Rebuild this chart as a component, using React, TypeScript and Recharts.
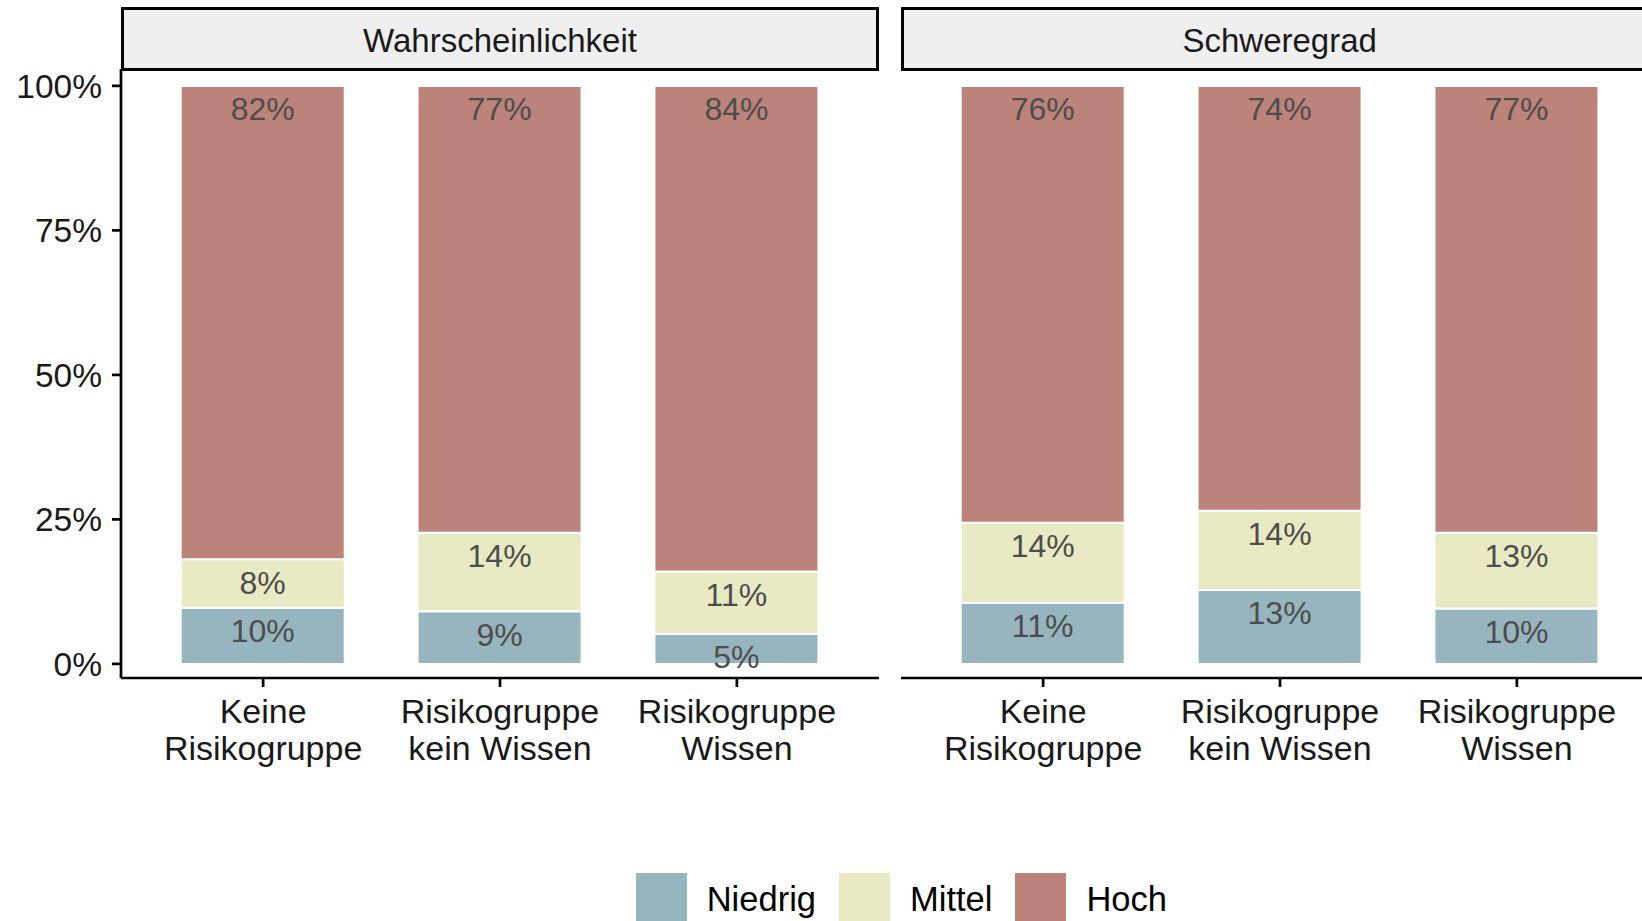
import React from 'react';
import { BarChart, Bar, XAxis, YAxis, LabelList } from 'recharts';

const categories = ['Keine\nRisikogruppe', 'Risikogruppe\nkein Wissen', 'Risikogruppe\nWissen'];
const panelTitles = ['Wahrscheinlichkeit', 'Schweregrad'];
const seriesNames = ['Niedrig', 'Mittel', 'Hoch'];
const seriesColors = ['#97B5BE', '#E9EAC4', '#BC837A'];

const niedrigWahrscheinlichkeit = [9.7, 9.1, 5.2];
const mittelWahrscheinlichkeit = [8.4, 13.6, 10.8];
const hochWahrscheinlichkeit = [81.9, 77.3, 84.0];

const niedrigSchweregrad = [10.6, 12.8, 9.6];
const mittelSchweregrad = [13.8, 13.7, 13.1];
const hochSchweregrad = [75.6, 73.5, 77.3];

const yTicks = [0, 25, 50, 75, 100];

const FONT = '"Liberation Sans", Arial, Helvetica, sans-serif';

const buildData = (n: number[], m: number[], h: number[]) =>
  categories.map((cat, i) => ({ cat, Niedrig: n[i], Mittel: m[i], Hoch: h[i] }));

const panelData = [
  buildData(niedrigWahrscheinlichkeit, mittelWahrscheinlichkeit, hochWahrscheinlichkeit),
  buildData(niedrigSchweregrad, mittelSchweregrad, hochSchweregrad),
];

const renderLabel = (props: any) => {
  const { x, y, width } = props;
  let value = props.value;
  if (Array.isArray(value)) value = value[1] - value[0];
  return (
    <text
      x={Number(x) + Number(width) / 2}
      y={Number(y) + 34.5}
      textAnchor="middle"
      fontSize={32}
      fontFamily={FONT}
      fill="#4D4D4D"
    >
      {Math.round(Number(value))}%
    </text>
  );
};

const CatTick = (props: any) => {
  const { x, y, payload } = props;
  const lines = String(payload.value).split('\n');
  return (
    <text x={x} y={y} textAnchor="middle" fontSize={34} fontFamily={FONT} fill="#1A1A1A">
      {lines.map((l, i) => (
        <tspan key={i} x={x} dy={i === 0 ? 36 : 37}>
          {l}
        </tspan>
      ))}
    </text>
  );
};

const Y_DOMAIN: [number, number] = [-2.44, 102.92];

const Panel = ({ data, showY, width }: { data: any[]; showY: boolean; width: number }) => (
  <BarChart
    width={width}
    height={778}
    data={data}
    margin={{ top: 69, right: 0, bottom: 0, left: 0 }}
  >
    <XAxis
      dataKey="cat"
      type="category"
      height={100}
      interval={0}
      tickSize={9}
      tickMargin={0}
      padding={{ left: 23.7, right: 23.7 }}
      axisLine={{ stroke: '#000', strokeWidth: 2.7 }}
      tickLine={{ stroke: '#000', strokeWidth: 2.7 }}
      tick={<CatTick />}
    />
    <YAxis
      hide={!showY}
      width={121}
      type="number"
      domain={Y_DOMAIN}
      ticks={yTicks}
      allowDataOverflow
      interval={0}
      tickSize={9}
      tickMargin={10}
      tickFormatter={(v: number) => `${v}%`}
      axisLine={{ stroke: '#000', strokeWidth: 2.7 }}
      tickLine={{ stroke: '#000', strokeWidth: 2.7 }}
      tick={{ fontSize: 33.5, fill: '#1A1A1A', fontFamily: FONT }}
    />
    {seriesNames.map((name, i) => (
      <Bar
        key={name}
        dataKey={name}
        stackId="s"
        fill={seriesColors[i]}
        stroke="#FFFFFF"
        strokeWidth={2}
        barSize={164}
        isAnimationActive={false}
      >
        <LabelList dataKey={name} content={renderLabel} />
      </Bar>
    ))}
  </BarChart>
);

const stripStyle = (left: number): React.CSSProperties => ({
  position: 'absolute',
  left,
  top: 7.3,
  width: 758,
  height: 63.4,
  boxSizing: 'border-box',
  border: '3px solid #000',
  background: '#EFEFEF',
  display: 'flex',
  alignItems: 'center',
  justifyContent: 'center',
  paddingTop: 4,
  fontSize: 33,
  color: '#1A1A1A',
  fontFamily: FONT,
});

export default function App() {
  return (
    <div
      style={{
        position: 'absolute',
        left: 0,
        top: 0,
        width: 1642,
        height: 921,
        overflow: 'hidden',
        background: '#fff',
        fontFamily: FONT,
      }}
    >
      <div style={{ position: 'absolute', left: 0, top: 0 }}>
        <Panel data={panelData[0]} showY={true} width={879} />
      </div>
      <div style={{ position: 'absolute', left: 900.7, top: 0 }}>
        <Panel data={panelData[1]} showY={false} width={758} />
      </div>
      <div style={stripStyle(121)}>{panelTitles[0]}</div>
      <div style={stripStyle(900.7)}>{panelTitles[1]}</div>
      <div
        style={{
          position: 'absolute',
          left: 635.7,
          top: 872.7,
          display: 'flex',
          alignItems: 'center',
          fontSize: 34.5,
          color: '#000',
          fontFamily: FONT,
          whiteSpace: 'nowrap',
        }}
      >
        {seriesNames.map((name, i) => (
          <div key={name} style={{ display: 'flex', alignItems: 'center', marginRight: 23 }}>
            <div style={{ width: 51, height: 51, background: seriesColors[i], marginRight: 20 }} />
            <span style={{ paddingTop: 3 }}>{name}</span>
          </div>
        ))}
      </div>
    </div>
  );
}
